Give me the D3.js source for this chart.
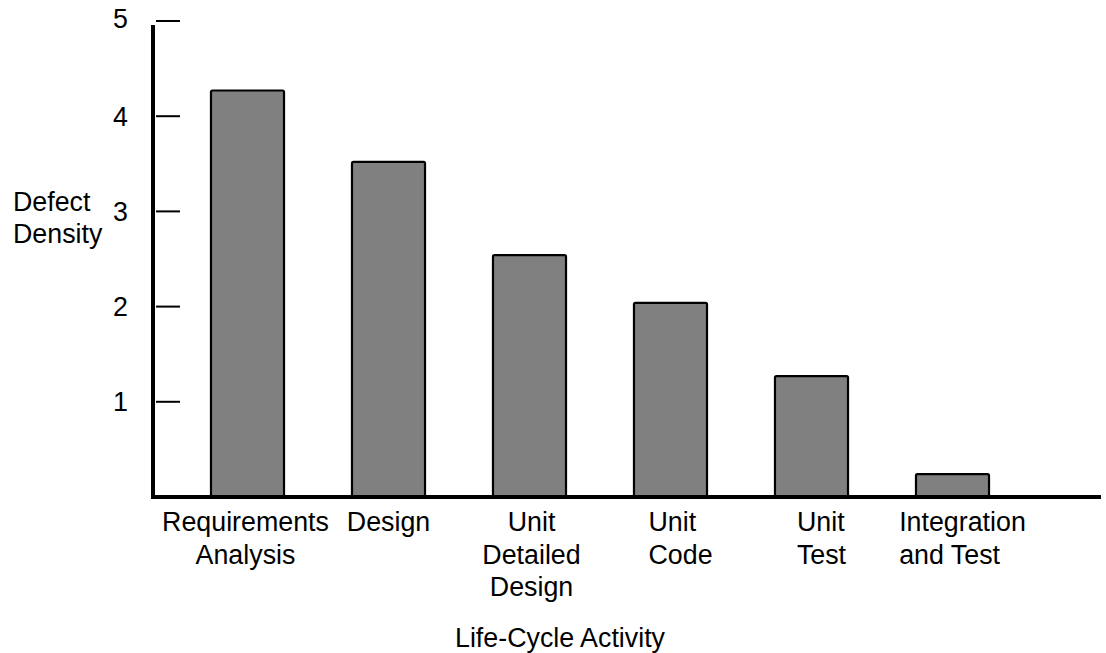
<!DOCTYPE html>
<html>
<head>
<meta charset="utf-8">
<script src="https://cdn.jsdelivr.net/npm/d3@7"></script>
<style>
  html, body { margin: 0; padding: 0; background: #fff; }
  svg { display: block; }
  text { font-family: "Liberation Sans", Arial, sans-serif; fill: #000; }
</style>
</head>
<body>
<svg id="chart" width="1106" height="653"></svg>
<script>
const categories = [
  ["Requirements", "Analysis"],
  ["Design"],
  ["Unit", "Detailed", "Design"],
  ["Unit", "Code"],
  ["Unit", "Test"],
  ["Integration", "and Test"]
];
const categoryKeys = ["Requirements Analysis", "Design", "Unit Detailed Design", "Unit Code", "Unit Test", "Integration and Test"];
const defectDensity = [4.27, 3.52, 2.54, 2.04, 1.27, 0.24];
const yTickValues = [1, 2, 3, 4, 5];
const yTitle = ["Defect", "Density"];
const xTitle = "Life-Cycle Activity";

const svg = d3.select("#chart");
const fontSize = 26.8;

const y = d3.scaleLinear().domain([0, 5]).range([497, 21]);
const x = d3.scaleBand().domain(categoryKeys).range([177, 1023])
  .paddingInner(0.482).paddingOuter(0.241);

// bars
svg.append("g").selectAll("rect").data(defectDensity).join("rect")
  .attr("x", (d, i) => x(categoryKeys[i]))
  .attr("y", d => y(d))
  .attr("width", x.bandwidth())
  .attr("height", d => y(0) - y(d))
  .attr("rx", 1.5)
  .attr("fill", "#808080")
  .attr("stroke", "#000")
  .attr("stroke-width", 2.2);

// y axis line
svg.append("line")
  .attr("x1", 153).attr("x2", 153)
  .attr("y1", y(5) + 4).attr("y2", y(0) + 2)
  .attr("stroke", "#000").attr("stroke-width", 4);

// x axis line
svg.append("line")
  .attr("x1", 151).attr("x2", 1101)
  .attr("y1", y(0)).attr("y2", y(0))
  .attr("stroke", "#000").attr("stroke-width", 4);

// y ticks
const tg = svg.append("g");
tg.selectAll("line").data(yTickValues).join("line")
  .attr("x1", 156).attr("x2", 180)
  .attr("y1", d => y(d)).attr("y2", d => y(d))
  .attr("stroke", "#000").attr("stroke-width", 2);
tg.selectAll("text").data(yTickValues).join("text")
  .attr("x", 128)
  .attr("y", d => y(d) - (d === 5 ? 3 : 0))
  .attr("dy", "0.36em")
  .attr("text-anchor", "end")
  .attr("font-size", fontSize)
  .text(d => d);

// y title
svg.append("text")
  .attr("x", 13).attr("y", 211)
  .attr("font-size", fontSize)
  .selectAll("tspan").data(yTitle).join("tspan")
  .attr("x", 13)
  .attr("dy", (d, i) => i === 0 ? 0 : 32)
  .text(d => d);

// x category labels
const lineH = 32.5;
categories.forEach((lines, i) => {
  const cx = x(categoryKeys[i]) + x.bandwidth() / 2;
  const t = svg.append("text")
    .attr("font-size", fontSize)
    .attr("y", 531);
  if (i < 3) {
    t.attr("text-anchor", "middle");
    t.selectAll("tspan").data(lines).join("tspan")
      .attr("x", i === 0 ? cx - 2 : cx + (i === 2 ? 2 : 0))
      .attr("dy", (d, j) => j === 0 ? 0 : lineH)
      .text(d => d);
  } else {
    t.attr("text-anchor", "start");
    const sp = t.selectAll("tspan").data(lines).join("tspan")
      .attr("x", 0)
      .attr("dy", (d, j) => j === 0 ? 0 : lineH)
      .text(d => d);
    let w = 0;
    sp.each(function () { w = Math.max(w, this.getComputedTextLength()); });
    const left = cx + 10 - w / 2;
    sp.attr("x", left);
  }
});

// x title
svg.append("text")
  .attr("x", 560).attr("y", 647)
  .attr("text-anchor", "middle")
  .attr("font-size", fontSize)
  .text(xTitle);
</script>
</body>
</html>
